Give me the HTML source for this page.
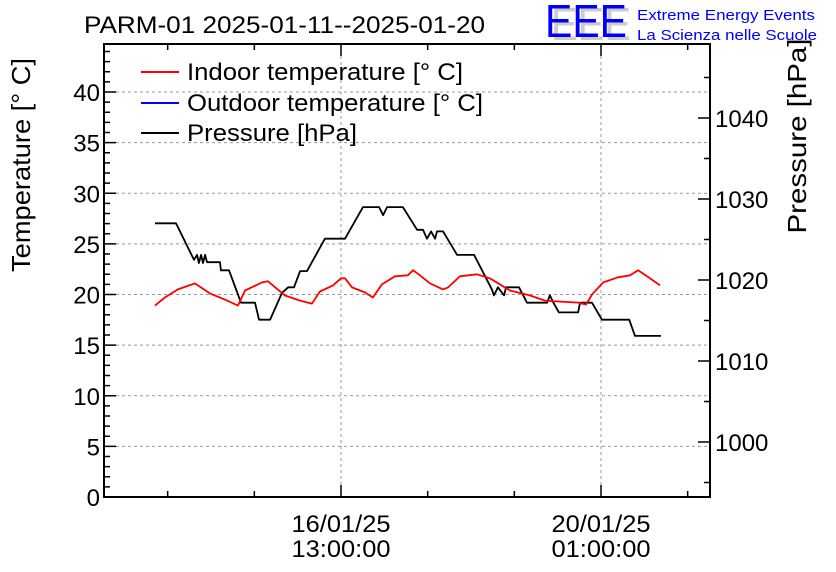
<!DOCTYPE html>
<html><head><meta charset="utf-8"><style>
body{margin:0;background:#fff;}
svg{display:block;font-family:"Liberation Sans",sans-serif;}
</style></head><body>
<svg id="chart" width="836" height="572" viewBox="0 0 836 572">
<rect width="836" height="572" fill="#fff"/>
<text x="84" y="33" font-size="24" textLength="401" lengthAdjust="spacingAndGlyphs">PARM-01 2025-01-11--2025-01-20</text>
<g>
<text x="551" y="40" font-size="46" fill="#ccc" textLength="80" lengthAdjust="spacingAndGlyphs">EEE</text>
<text x="545" y="37" font-size="46" fill="#0000ff" textLength="82" lengthAdjust="spacingAndGlyphs">EEE</text>
<text x="637" y="20" font-size="15" fill="#0000ff" textLength="178" lengthAdjust="spacingAndGlyphs">Extreme Energy Events</text>
<text x="637" y="40" font-size="15" fill="#0000ff" textLength="180" lengthAdjust="spacingAndGlyphs">La Scienza nelle Scuole</text>
</g>
<g id="grid"></g>
<g id="axes"></g>
<g id="series"></g>
<rect x="104" y="44" width="606" height="453" fill="none" stroke="#000" stroke-width="2"/>
<text transform="translate(30,165) rotate(-90)" text-anchor="middle" font-size="26" textLength="214" lengthAdjust="spacingAndGlyphs">Temperature [° C]</text>
<text transform="translate(806,136) rotate(-90)" text-anchor="middle" font-size="26" textLength="195" lengthAdjust="spacingAndGlyphs">Pressure [hPa]</text>
<g>
<line x1="141" y1="72" x2="179" y2="72" stroke="#f00" stroke-width="2"/>
<text x="187" y="80" font-size="24" textLength="276" lengthAdjust="spacingAndGlyphs">Indoor temperature [° C]</text>
<line x1="141" y1="103" x2="179" y2="103" stroke="#00f" stroke-width="2"/>
<text x="187" y="111" font-size="24" textLength="296" lengthAdjust="spacingAndGlyphs">Outdoor temperature [° C]</text>
<line x1="141" y1="133" x2="179" y2="133" stroke="#000" stroke-width="2"/>
<text x="187" y="141" font-size="24" textLength="170" lengthAdjust="spacingAndGlyphs">Pressure [hPa]</text>
</g>
</svg>
<script>
// hours relative to 16/01/25 13:00
const tempTimes=[-60.1,-56.9,-52.7,-47.2,-42.3,-37.5,-33.3,-31.0,-25.5,-23.6,-18.1,-13.2,-9.4,-6.8,-2.6,0,1.3,3.6,7.8,10.3,13.2,17.4,21.6,23.3,25.5,28.8,33.0,34.6,38.4,43.9,48.1,54.6,61.1,65.9,70.8,76.6,79.2,81.1,84.7,89.5,93.4,96.0,99.8,103.1];
const indoorTemp=[18.9,19.7,20.5,21.1,20.1,19.5,18.9,20.4,21.2,21.3,19.9,19.4,19.1,20.3,20.9,21.6,21.6,20.7,20.2,19.7,21.0,21.8,21.9,22.4,21.9,21.1,20.5,20.7,21.8,22.0,21.6,20.4,19.9,19.4,19.3,19.2,19.0,20.0,21.2,21.7,21.9,22.4,21.6,20.9];
const outdoorTimes=[-60.1,103.4];
const outdoorTemp=[0,0];
const presTimes=[-60.1,-53.3,-47.5,-46.5,-45.9,-45.2,-44.6,-43.9,-43.3,-42.3,-39.1,-38.8,-36.2,-32.3,-27.8,-26.5,-22.9,-19.1,-17.1,-15.2,-13.2,-11.0,-5.2,1.3,7.1,12.3,13.6,14.9,20.0,24.6,26.5,27.8,29.1,30.4,31.0,33.0,37.5,43.0,48.8,49.4,50.7,52.7,53.3,57.5,60.1,66.6,67.5,68.5,70.4,76.6,77.2,81.1,84.3,93.1,95.0,103.4];
const pressure=[1027.0,1027.0,1022.5,1023.1,1022.1,1023.1,1022.1,1023.1,1022.2,1022.2,1022.2,1021.2,1021.2,1017.2,1017.2,1015.1,1015.1,1018.4,1019.1,1019.1,1021.1,1021.1,1025.1,1025.1,1029.0,1029.0,1028.0,1029.0,1029.0,1026.2,1026.2,1025.1,1026.0,1025.1,1026.0,1026.0,1023.1,1023.1,1018.8,1018.1,1019.1,1018.1,1019.1,1019.1,1017.2,1017.2,1018.1,1017.3,1016.0,1016.0,1017.2,1017.2,1015.1,1015.1,1013.1,1013.1];
const tempTicks=[0,5,10,15,20,25,30,35,40];
const presTicks=[1000,1010,1020,1030,1040];
const timeTickHours=[0,84];
const timeTickDates=["16/01/25","20/01/25"];
const timeTickClock=["13:00:00","01:00:00"];

const NS="http://www.w3.org/2000/svg";
const L=104,R=710,T=44,B=497;
const xS=h=>341+h*(260/84);
const yT=t=>497-t*10.125;
const yP=p=>280-(p-1020)*8.1;
function mk(tag,attrs,parent,txt){const e=document.createElementNS(NS,tag);for(const k in attrs)e.setAttribute(k,attrs[k]);if(txt!==undefined)e.textContent=txt;parent.appendChild(e);return e;}
const grid=document.getElementById('grid'),axes=document.getElementById('axes'),series=document.getElementById('series');
tempTicks.forEach(t=>{const y=yT(t);
 if(t>0){const g=mk('line',{x1:L,x2:R,y1:y,y2:y,stroke:'#999','stroke-dasharray':'3,3','stroke-width':1},grid);
 
 }
 const lb=mk('text',{x:L-4,y:y+9,'text-anchor':'end','font-size':24},axes,String(t));
 
 
});
for(let t=0;t<=44;t++){const y=yT(t);if(y<T)break;const len=t%5===0?12:6;mk('line',{x1:L,x2:L+len,y1:y,y2:y,stroke:'#000','stroke-width':1.5},axes);}
for(let p=995;p<=1045;p+=5){const y=yP(p);if(y<T||y>B)continue;const len=p%10===0?12:6;mk('line',{x1:R-len,x2:R,y1:y,y2:y,stroke:'#000','stroke-width':1.5},axes);}
presTicks.forEach(p=>{const lb=mk('text',{x:715,y:yP(p)+9,'font-size':24},axes,String(p));
 
 });
for(let k=-3;k<=5;k++){const h=k*28;const x=xS(h);if(x<L||x>R)continue;const major=(k%3===0);const len=major?12:6;
 mk('line',{x1:x,x2:x,y1:B,y2:B-len,stroke:'#000','stroke-width':1.5},axes);
 mk('line',{x1:x,x2:x,y1:T,y2:T+len,stroke:'#000','stroke-width':1.5},axes);}
timeTickHours.forEach((h,i)=>{const x=xS(h);
 const g=mk('line',{x1:x,x2:x,y1:T,y2:B,stroke:'#999','stroke-dasharray':'3,3','stroke-width':1},grid);
 
 
 const a=mk('text',{x:x,y:532,'text-anchor':'middle','font-size':24,textLength:99,lengthAdjust:'spacingAndGlyphs'},axes,timeTickDates[i]);
 
 
 const b=mk('text',{x:x,y:557,'text-anchor':'middle','font-size':24,textLength:99,lengthAdjust:'spacingAndGlyphs'},axes,timeTickClock[i]);
 
 });
function poly(ts,vs,yf,color,name){const pts=ts.map((t,i)=>xS(t).toFixed(1)+','+yf(vs[i]).toFixed(1)).join(' ');
 const p=mk('polyline',{points:pts,fill:'none',stroke:color,'stroke-width':1.8,'stroke-linejoin':'round'},series);
 
 }
poly(outdoorTimes,outdoorTemp,yT,'#00f','outdoor-temperature-line');
poly(presTimes,pressure,yP,'#000','pressure-line');
poly(tempTimes,indoorTemp,yT,'#f00','indoor-temperature-line');
</script>
</body></html>
